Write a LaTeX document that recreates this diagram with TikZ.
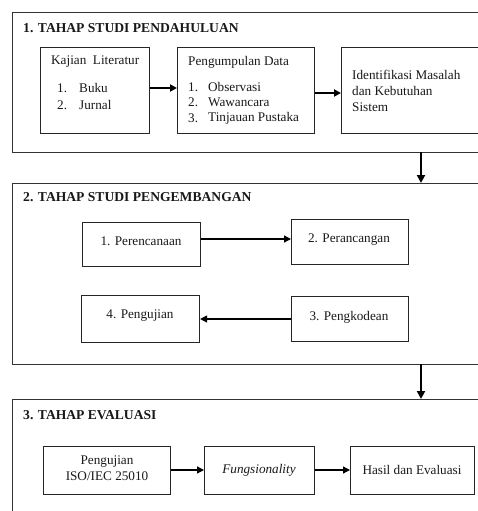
\documentclass[tikz,border=0pt]{standalone}
\usepackage{fontspec}
\setmainfont{Liberation Serif}
\usetikzlibrary{arrows.meta}
\begin{document}
\begin{tikzpicture}[x=1pt,y=-1pt,
  outer/.style={draw=black!80, line width=0.9pt},
  box/.style={draw=black!85, line width=1.1pt, anchor=north west, inner sep=0pt},
  txt/.style={font=\fontsize{13.2}{16}\selectfont, inner sep=0pt, text=black!90},
  hdr/.style={font=\fontsize{13.6}{16}\selectfont\bfseries, inner sep=0pt, anchor=west, text=black!90},
  arr/.style={line width=1.8pt, -{Triangle[length=7pt,width=7pt]}},
  thinarr/.style={line width=1.3pt, -{Triangle[length=7pt,width=7pt]}},
  bigarr/.style={line width=2pt, -{Triangle[length=8pt,width=8pt]}}]
\clip (0,0) rectangle (478,511);
\fill[white] (0,0) rectangle (478,511);
% outer sections
\draw[outer] (495,12) -- (12,12) -- (12,152) -- (495,152);
\draw[outer] (495,183) -- (12,183) -- (12,364) -- (495,364);
\draw[outer] (495,399) -- (12,399) -- (12,520);
\coordinate (s1b) at (421,152);
\coordinate (s2t) at (421,183);
\coordinate (s2b) at (421,364);
\coordinate (s3t) at (421,399);
\node[hdr] (h1) at (23,28) {1. TAHAP STUDI PENDAHULUAN};
\node[hdr] (h2) at (23,197) {2. TAHAP STUDI PENGEMBANGAN};
\node[hdr] (h3) at (23,415) {3. TAHAP EVALUASI};
% section 1
\node[box, minimum width=109pt, minimum height=86pt] (kaj) at (40,47) {};
\node[box, minimum width=137pt, minimum height=86pt] (pen) at (177,47) {};
\node[box, minimum width=145pt, minimum height=86pt] (ide) at (341,47) {};
\node[txt, anchor=west] (kt) at (51,62) {Kajian\ \ Literatur};
\node[txt, anchor=west] (k1n) at (57,88) {1.};
\node[txt, anchor=west] (k1) at (79,88) {Buku};
\node[txt, anchor=west] (k2n) at (57,105) {2.};
\node[txt, anchor=west] (k2) at (79,105) {Jurnal};
\node[txt, anchor=west] (pt) at (188,62) {Pengumpulan Data};
\node[txt, anchor=west] (p1n) at (188,87) {1.};
\node[txt, anchor=west] (p1) at (208,87) {Observasi};
\node[txt, anchor=west] (p2n) at (188,102) {2.};
\node[txt, anchor=west] (p2) at (208,102) {Wawancara};
\node[txt, anchor=west] (p3n) at (188,118) {3.};
\node[txt, anchor=west] (p3) at (208,118) {Tinjauan Pustaka};
\node[txt, anchor=west] (i1) at (352,75) {Identifikasi Masalah};
\node[txt, anchor=west] (i2) at (352,91) {dan Kebutuhan};
\node[txt, anchor=west] (i3) at (352,107) {Sistem};
\draw[arr] (kaj.east |- 0,88) -- (pen.west |- 0,88);
\draw[arr] (pen.east |- 0,93) -- (ide.west |- 0,93);
\draw[bigarr] (s1b) -- (s2t);
% section 2
\node[box, minimum width=118pt, minimum height=44pt] (b1) at (82,222) {};
\node[box, minimum width=117pt, minimum height=45pt] (b2) at (291,219) {};
\node[box, minimum width=118pt, minimum height=47pt] (b4) at (81,295) {};
\node[box, minimum width=117pt, minimum height=45pt] (b3) at (291,296) {};
\node[txt] (t1) at (141,241) {1. Perencanaan};
\node[txt] (t2) at (349,240) {2. Perancangan};
\node[txt] (t4) at (140,316) {4. Pengujian};
\node[txt] (t3) at (349,317) {3. Pengkodean};
\draw[thinarr] (b1.east |- 0,239) -- (b2.west |- 0,239);
\draw[thinarr] (b3.west |- 0,319) -- (b4.east |- 0,319);
\draw[bigarr] (s2b) -- (s3t);
% section 3
\node[box, minimum width=127pt, minimum height=48pt] (e1) at (43,446) {};
\node[box, minimum width=110pt, minimum height=48pt] (e2) at (204,446) {};
\node[box, minimum width=124pt, minimum height=48pt] (e3) at (350,446) {};
\node[txt, align=center] (et1) at (107,468) {Pengujian\\ISO/IEC 25010};
\node[txt] (et2) at (259,470) {\itshape Fungsionality};
\node[txt] (et3) at (412,470) {Hasil dan Evaluasi};
\draw[thinarr] (e1.east |- 0,470) -- (e2.west |- 0,470);
\draw[thinarr] (e2.east |- 0,470) -- (e3.west |- 0,470);
\end{tikzpicture}
\end{document}
